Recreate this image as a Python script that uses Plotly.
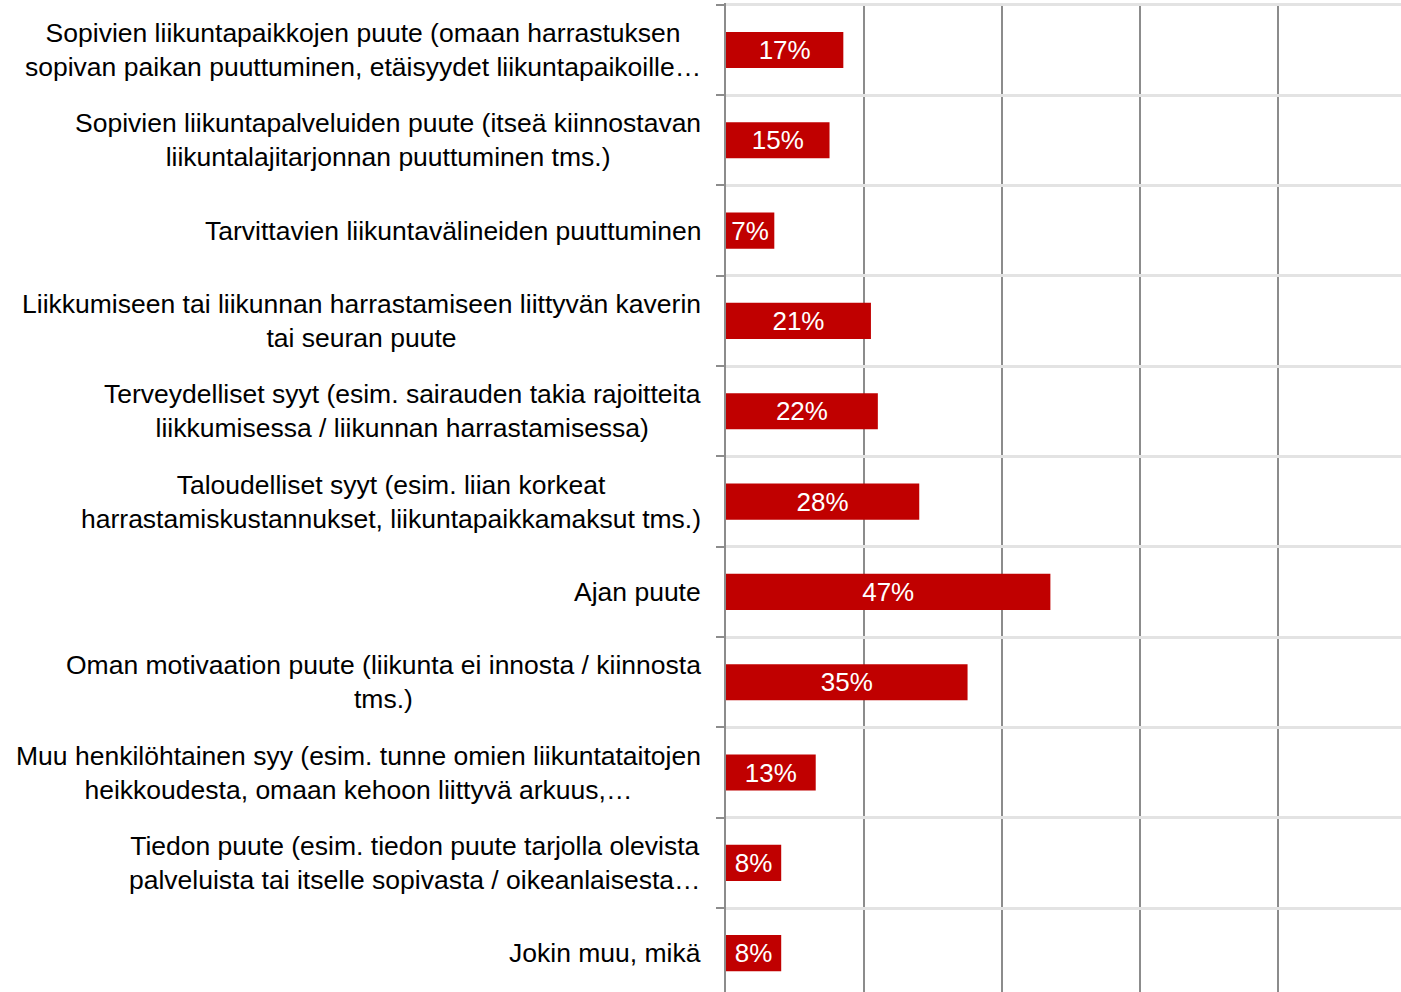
import plotly.graph_objects as go

categories = [
    "Sopivien liikuntapaikkojen puute (omaan harrastuksen<br>sopivan paikan puuttuminen, etäisyydet liikuntapaikoille…",
    "Sopivien liikuntapalveluiden puute (itseä kiinnostavan<br>liikuntalajitarjonnan puuttuminen tms.)",
    "Tarvittavien liikuntavälineiden puuttuminen",
    "Liikkumiseen tai liikunnan harrastamiseen liittyvän kaverin<br>tai seuran puute",
    "Terveydelliset syyt (esim. sairauden takia rajoitteita<br>liikkumisessa / liikunnan harrastamisessa)",
    "Taloudelliset syyt (esim. liian korkeat<br>harrastamiskustannukset, liikuntapaikkamaksut tms.)",
    "Ajan puute",
    "Oman motivaation puute (liikunta ei innosta / kiinnosta<br>tms.)",
    "Muu henkilöhtainen syy (esim. tunne omien liikuntataitojen<br>heikkoudesta, omaan kehoon liittyvä arkuus,…",
    "Tiedon puute (esim. tiedon puute tarjolla olevista<br>palveluista tai itselle sopivasta / oikeanlaisesta…",
    "Jokin muu, mikä",
]
values = [17, 15, 7, 21, 22, 28, 47, 35, 13, 8, 8]
value_labels = [f"{v}%" for v in values]

FONT = "Liberation Sans, Arial, sans-serif"

fig = go.Figure()
fig.add_trace(go.Bar(
    x=values,
    y=list(range(len(categories))),
    orientation="h",
    marker=dict(color="#C00000", line=dict(width=0)),
    width=0.4,
    text=value_labels,
    textposition="inside",
    insidetextanchor="middle",
    textangle=0,
    constraintext="none",
    textfont=dict(family=FONT, size=26, color="white"),
    hoverinfo="skip",
))

annotations = []
for i, c in enumerate(categories):
    annotations.append(dict(
        x=0, xref="paper", y=i, yref="y",
        text=c, showarrow=False,
        xanchor="right", yanchor="middle", align="center",
        xshift=-23,
        font=dict(family=FONT, size=26.5, color="black"),
    ))

n = len(categories)
fig.update_layout(
    width=1401, height=992,
    margin=dict(l=726, r=0, t=3, b=0),
    paper_bgcolor="white", plot_bgcolor="white",
    showlegend=False,
    bargap=0.6,
    uniformtext=dict(minsize=26, mode="show"),
    annotations=annotations,
    xaxis=dict(
        range=[0, 97.8], dtick=20, tick0=0,
        showgrid=True, gridcolor="#8c8c8c", gridwidth=2,
        showticklabels=False, zeroline=False, showline=False, ticks="",
    ),
    yaxis=dict(
        range=[n - 0.57, -0.52],
        tickmode="array",
        tickvals=[i - 0.5 for i in range(n + 1)],
        showticklabels=False,
        showgrid=True, gridcolor="#e3e3e3", gridwidth=3,
        ticks="outside", ticklen=8, tickcolor="#8c8c8c", tickwidth=2,
        showline=True, linecolor="#8c8c8c", linewidth=2,
        zeroline=False,
    ),
)

fig.write_html(
    "out.html",
    config={"displayModeBar": False},
    post_script="document.body.style.margin='0';document.body.style.overflow='hidden';",
)
